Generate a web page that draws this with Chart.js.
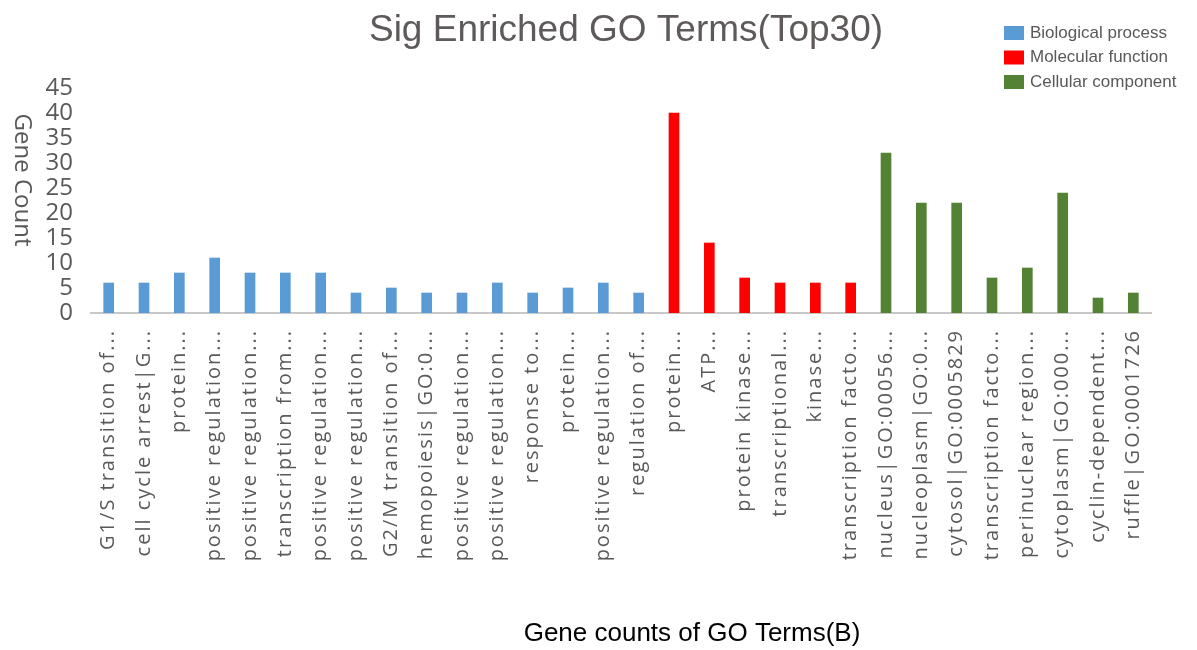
<!DOCTYPE html>
<html>
<head>
<meta charset="utf-8">
<script src="https://cdn.jsdelivr.net/npm/chart.js@4"></script>
<style>
  body { margin: 0; background: #fff; }
  #wrap { width: 1197px; height: 650px; }
</style>
</head>
<body>
<div id="wrap"><canvas id="goChart" width="1197" height="650"></canvas></div>
<script>
// GO terms, in the order drawn on the x axis
const terms = [
  'G1/S transition of...', 'cell cycle arrest|G...', 'protein...', 'positive regulation...',
  'positive regulation...', 'transcription from...', 'positive regulation...', 'positive regulation...',
  'G2/M transition of...', 'hemopoiesis|GO:0...', 'positive regulation...', 'positive regulation...',
  'response to...', 'protein...', 'positive regulation...', 'regulation of...',
  'protein...', 'ATP...', 'protein kinase...', 'transcriptional...', 'kinase...', 'transcription facto...',
  'nucleus|GO:00056...', 'nucleoplasm|GO:0...', 'cytosol|GO:0005829', 'transcription facto...',
  'perinuclear region...', 'cytoplasm|GO:000...', 'cyclin-dependent...', 'ruffle|GO:0001726'
];
const geneCounts = [
  6, 6, 8, 11, 8, 8, 8, 4, 5, 4, 4, 6, 4, 5, 6, 4,
  40, 14, 7, 6, 6, 6,
  32, 22, 22, 7, 9, 24, 3, 4
];
const termGroup = [
  'BP', 'BP', 'BP', 'BP', 'BP', 'BP', 'BP', 'BP', 'BP', 'BP', 'BP', 'BP', 'BP', 'BP', 'BP', 'BP',
  'MF', 'MF', 'MF', 'MF', 'MF', 'MF',
  'CC', 'CC', 'CC', 'CC', 'CC', 'CC', 'CC', 'CC'
];
const groupNames = ['Biological process', 'Molecular function', 'Cellular component'];
const groupKeys = ['BP', 'MF', 'CC'];
const yTicks = [0, 5, 10, 15, 20, 25, 30, 35, 40, 45];

const groupColors = { BP: '#5b9bd5', MF: '#ff0000', CC: '#548235' };
const textGray = '#595959';

// stretched look of the rotated term labels: letter spacing only while the x axis draws
const labelSpacing = {
  id: 'labelSpacing',
  beforeDraw(chart) { chart.ctx.letterSpacing = '2px'; },
  beforeDatasetsDraw(chart) { chart.ctx.letterSpacing = '0px'; }
};

// title, legend and axis titles
const decorations = {
  id: 'decorations',
  afterDraw(chart) {
    const ctx = chart.ctx;
    const area = chart.chartArea;
    ctx.save();

    ctx.fillStyle = '#5f5a5a';
    ctx.font = '37px "Liberation Sans", Arial, sans-serif';
    ctx.textAlign = 'center';
    ctx.textBaseline = 'middle';
    ctx.fillText('Sig Enriched GO Terms(Top30)', (area.left + area.right) / 2 + 5, 31);

    ctx.font = '17px "Liberation Sans", Arial, sans-serif';
    ctx.textAlign = 'left';
    groupKeys.forEach((k, i) => {
      const y = 33 + i * 24.5;
      ctx.fillStyle = groupColors[k];
      ctx.fillRect(1004, y - 7, 20, 14);
      ctx.fillStyle = textGray;
      ctx.fillText(groupNames[i], 1030, y);
    });

    ctx.fillStyle = '#000';
    ctx.font = '26px "Liberation Sans", Arial, sans-serif';
    ctx.textAlign = 'center';
    ctx.fillText('Gene counts of GO Terms(B)', 692, 634);

    ctx.translate(22, 180);
    ctx.rotate(Math.PI / 2);
    ctx.fillStyle = textGray;
    ctx.font = '24px "Open Sans", sans-serif';
    ctx.fillText('Gene Count', 0, 0);
    ctx.restore();
  }
};

new Chart(document.getElementById('goChart'), {
  type: 'bar',
  data: {
    labels: terms,
    datasets: [{
      label: 'Gene Count',
      data: geneCounts,
      backgroundColor: termGroup.map(g => groupColors[g]),
      barThickness: 10
    }]
  },
  options: {
    responsive: false,
    animation: false,
    layout: { padding: { top: 88, right: 46, bottom: 0, left: 0 } },
    plugins: {
      legend: { display: false },
      title: { display: false },
      tooltip: { enabled: false }
    },
    scales: {
      x: {
        grid: { display: false, drawTicks: false },
        border: { display: true, color: '#c8c8c8', width: 2 },
        ticks: {
          autoSkip: false,
          minRotation: 90,
          maxRotation: 90,
          padding: 16,
          color: textGray,
          font: { family: '"Open Sans", sans-serif', size: 20 }
        },
        afterFit(scale) { scale.height = 337; }
      },
      y: {
        min: 0,
        max: 45,
        grid: { display: false, drawTicks: false },
        border: { display: false },
        ticks: {
          z: 1,
          autoSkip: false,
          padding: 18,
          color: textGray,
          font: { family: '"Open Sans", sans-serif', size: 24, lineHeight: 1 }
        },
        afterBuildTicks(scale) { scale.ticks = yTicks.map(v => ({ value: v })); },
        afterFit(scale) { scale.width = 91; }
      }
    }
  },
  plugins: [labelSpacing, decorations]
});
</script>
</body>
</html>
